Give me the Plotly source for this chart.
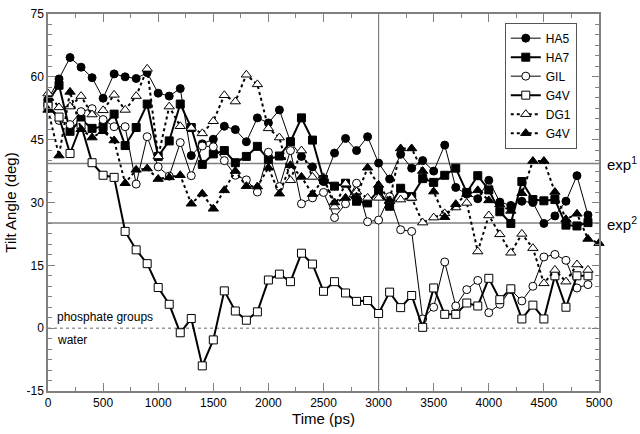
import plotly.graph_objects as go

time_ps = list(range(0, 5001, 100))

HA5 = [54.5, 59.5, 64.6, 62.3, 59.8, 54.9, 60.7, 60.0, 59.6, 61.0, 56.1, 55.4, 57.2, 41.2, 44.0, 45.1, 48.2,
       47.4, 44.5, 50.2, 49.0, 52.1, 44.5, 41.0, 38.5, 35.0, 41.8, 45.3, 42.4, 45.7, 39.4, 35.6, 41.5, 38.2,
       40.0, 37.5, 43.7, 33.6, 32.0, 30.9, 35.3, 30.1, 29.3, 30.3, 30.0, 25.0, 26.8, 30.3, 36.4, 27.0, None]
HA7 = [54.1, 58.0, 47.0, 49.8, 47.7, 48.1, 51.1, 43.6, 47.9, 53.5, 41.0, 44.7, 53.5, 47.9, 39.1, 41.6, 42.4,
       39.5, 41.0, 43.4, 40.3, 41.1, 44.5, 50.2, 44.9, 35.5, 33.9, 34.6, 30.3, 29.9, 32.9, 29.1, 33.4, 31.4,
       35.7, 34.8, 36.5, 38.2, 32.4, 36.4, 33.0, 27.8, 25.0, 35.0, 30.7, 30.4, 30.7, 24.6, 24.4, 25.2, None]
GIL = [53.0, 49.6, 48.6, 51.7, 52.4, 49.8, 48.1, 48.1, 34.4, 45.7, 38.5, 36.3, 44.3, 36.4, 43.5, 43.3, 40.0,
       36.5, 35.4, 32.5, 42.0, 33.8, 42.4, 29.7, 31.1, 32.4, 26.4, 29.7, 34.6, 25.4, 25.8, 31.4, 23.5, 23.1,
       2.2, 5.0, 15.8, 5.3, 9.2, 11.4, 3.7, 5.7, 9.2, 6.5, 10.0, 17.0, 17.6, 16.2, 9.6, 10.4, None]
G4V_sq = [53.0, 50.4, 41.7, 48.5, 39.5, 36.5, 36.0, 23.1, 18.7, 15.4, 9.7, 5.7, -1.1, 2.3, -9.0, -2.8, 8.9,
          4.1, 1.9, 3.9, 11.5, 12.9, 11.1, 17.9, 15.3, 8.8, 11.1, 8.4, 6.4, 6.6, 3.5, 8.6, 4.9, 7.8,
          0.2, 9.6, 3.3, 3.3, 6.0, 5.3, 11.9, 6.8, 9.4, 2.2, 5.5, 2.2, 12.5, 5.0, 12.5, 12.5, None]
DG1 = [56.0, 52.7, 52.9, 55.4, 51.0, 52.0, 55.7, 52.1, 55.4, 61.9, 41.0, 52.9, 48.2, 47.8, 46.5, 49.4, 55.6,
       54.1, 60.5, 58.2, 47.7, 45.5, 35.3, 42.4, 36.1, 36.0, 29.0, 34.5, 32.6, 31.1, 31.1, 30.3, 30.7, 31.1,
       25.2, 26.4, 27.4, 28.8, 29.9, 18.3, 26.9, 22.4, 18.0, 22.5, 19.1, 10.7, 13.9, 11.1, 15.2, 13.9, None]
G4V_tri = [52.1, 41.2, 56.4, 47.5, 45.5, 47.0, 44.8, 34.6, 37.8, 38.1, 35.6, 36.0, 36.5, 29.7, 32.1, 28.5, 32.9,
           37.5, 33.9, 33.8, 38.3, 32.1, 38.9, 36.1, 32.0, 35.7, 30.0, 31.1, 31.4, 38.3, 34.2, 30.5, 42.9, 42.9,
           37.5, 32.6, 26.5, 29.6, 32.0, 32.9, 30.5, 29.5, 28.0, 32.2, 39.9, 39.9, 32.5, 26.0, 27.3, 21.3, 20.3]

exp1 = 39.3
exp2 = 25.1
t_mark = 3000
x_ticks = list(range(0, 5001, 500))
y_ticks = list(range(-15, 76, 15))

FONT = "Liberation Sans, Arial, Helvetica, sans-serif"
GRAY = "#808080"

series = [
    ("HA5", HA5, "circle", "black", 1.0, "solid"),
    ("HA7", HA7, "square", "black", 2.0, "solid"),
    ("GIL", GIL, "circle", "white", 1.0, "solid"),
    ("G4V", G4V_sq, "square", "white", 2.0, "solid"),
    ("DG1", DG1, "triangle-up", "white", 2.0, "dot"),
    ("G4V", G4V_tri, "triangle-up", "black", 2.0, "dot"),
]

fig = go.Figure()
for name, vals, sym, fill, lw, dash in series:
    size = 9 if sym == "triangle-up" else 8
    fig.add_trace(go.Scatter(
        x=time_ps, y=vals, name=name, mode="lines+markers",
        line=dict(color="black", width=lw, dash=dash),
        marker=dict(symbol=sym, size=size, color=fill, line=dict(color="black", width=1)),
        cliponaxis=False, connectgaps=False,
    ))

shapes = [
    dict(type="line", xref="x", yref="y", x0=0, x1=5000, y0=exp1, y1=exp1,
         line=dict(color=GRAY, width=1.5), layer="below"),
    dict(type="line", xref="x", yref="y", x0=0, x1=5000, y0=exp2, y1=exp2,
         line=dict(color=GRAY, width=1.5), layer="below"),
    dict(type="line", xref="x", yref="y", x0=t_mark, x1=t_mark, y0=-15, y1=75,
         line=dict(color=GRAY, width=1.2), layer="below"),
    dict(type="line", xref="x", yref="y", x0=0, x1=5000, y0=0, y1=0,
         line=dict(color="#999999", width=1.5, dash="dot"), layer="below"),
]

annotations = [
    dict(x=1.01, xref="paper", y=exp1, yref="y", text="exp<sup>1</sup>", showarrow=False,
         xanchor="left", yanchor="middle", font=dict(size=15, family=FONT, color="black")),
    dict(x=1.01, xref="paper", y=exp2, yref="y", text="exp<sup>2</sup>", showarrow=False,
         xanchor="left", yanchor="middle", font=dict(size=15, family=FONT, color="black")),
    dict(x=60, xref="x", y=0, yref="y", text="phosphate groups", showarrow=False,
         xanchor="left", yanchor="bottom", yshift=2, font=dict(size=12, family=FONT, color="black")),
    dict(x=60, xref="x", y=0, yref="y", text="water", showarrow=False,
         xanchor="left", yanchor="top", yshift=-3, font=dict(size=12, family=FONT, color="black")),
]

axis_common = dict(
    showgrid=False, zeroline=False, showline=True, linecolor=GRAY, linewidth=1.5,
    mirror="allticks", ticks="inside", tickcolor=GRAY, tickwidth=1,
    tickfont=dict(size=12, family=FONT, color="black"),
)

fig.update_layout(
    width=640, height=434,
    margin=dict(l=48, r=41, t=7, b=43),
    paper_bgcolor="white", plot_bgcolor="white",
    font=dict(family=FONT, color="black"),
    shapes=shapes, annotations=annotations,
    legend=dict(x=0.829, y=0.977, xanchor="left", yanchor="top",
                bordercolor="#555555", borderwidth=1, bgcolor="white",
                font=dict(size=12, family=FONT, color="black"),
                tracegroupgap=0, itemwidth=30),
    xaxis=dict(range=[0, 5000], tickmode="array", tickvals=x_ticks,
               ticktext=[str(v) for v in x_ticks], ticklen=8,
               minor=dict(dtick=250, ticklen=4, ticks="inside", tickcolor=GRAY),
               title=dict(text="Time (ps)", font=dict(size=15, family=FONT), standoff=4),
               **axis_common),
    yaxis=dict(range=[-15, 75], tickmode="array", tickvals=y_ticks,
               ticktext=[str(v) for v in y_ticks], ticklen=7,
               minor=dict(dtick=2.5, ticklen=4, ticks="inside", tickcolor=GRAY),
               title=dict(text="Tilt Angle (deg)", font=dict(size=15, family=FONT), standoff=6),
               **axis_common),
)

fig.write_html("out.html", config={"displayModeBar": False},
               post_script="document.body.style.margin='0';document.body.style.overflow='hidden';")
